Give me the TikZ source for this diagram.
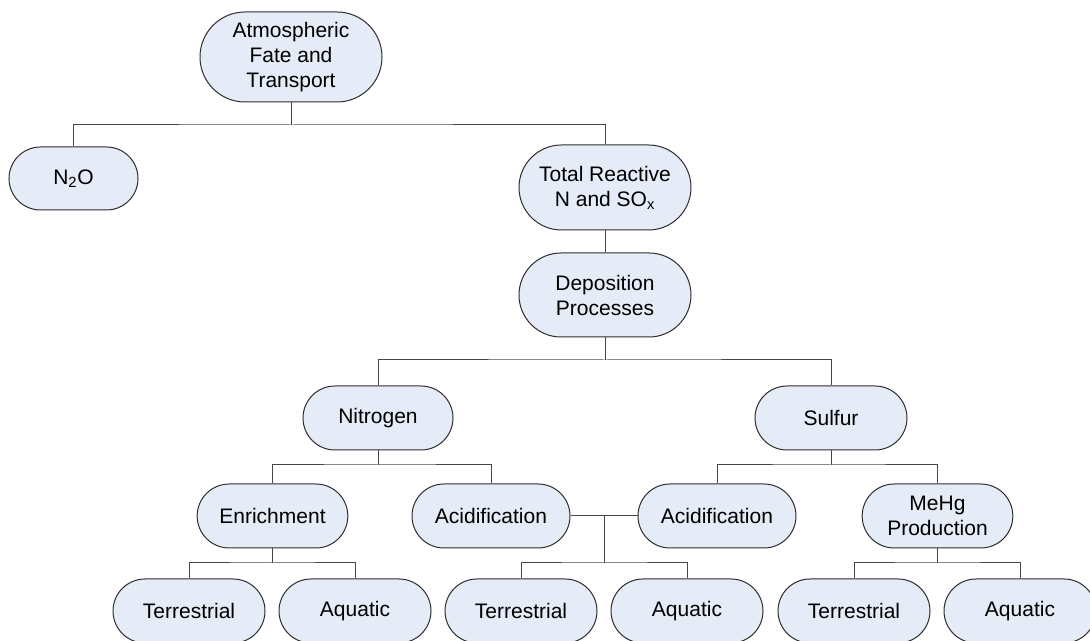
\documentclass[tikz,border=0pt]{standalone}
\usepackage{fontspec}
\setmainfont{Liberation Sans}
\usepackage{xcolor}
\usepackage{tikz}
\usetikzlibrary{shapes.misc}
\definecolor{pillfill}{RGB}{229,235,247}
\definecolor{pilledge}{RGB}{45,45,45}
\definecolor{linkgray}{RGB}{70,70,70}
\tikzstyle{pill} = [rounded rectangle, draw=pilledge, fill=pillfill, line width=0.75pt, inner sep=0pt, minimum width=114pt, minimum height=48pt, align=center, text=black, font=\fontsize{15.75pt}{18.75pt}\selectfont]
\tikzstyle{link} = [draw=linkgray, line width=0.75pt]

\begin{document}
\begin{tikzpicture}[x=0.75pt, y=-0.75pt]
            \useasboundingbox (0,0) rectangle (1090,641);
            % Nodes
            \node [pill, minimum width=136.5pt, minimum height=67.5pt] (atm_fate) at (291,57) {Atmospheric\\Fate and\\Transport};
            \node [pill, minimum width=96.75pt, minimum height=47.25pt] (n2o) at (73.5,178.5) {N\textsubscript{2}O};
            \node [pill, minimum width=129pt, minimum height=63.75pt] (total_n) at (605,187.5) {Total Reactive\\N and SO\textsubscript{x}};
            \node [pill, minimum width=129pt, minimum height=63pt] (deposition) at (605,295) {Deposition\\Processes};
            \node [pill, minimum width=112.5pt] (nitrogen) at (378,418) {Nitrogen};
            \node [pill] (sulfur) at (831,418) {Sulfur};
            \node [pill, minimum width=113pt] (enrich) at (272.5,516) {Enrichment};
            \node [pill, minimum width=118.5pt] (acid_n) at (491,516) {Acidification};
            \node [pill, minimum width=118.5pt] (acid_s) at (717,516) {Acidification};
            \node [pill, minimum width=113pt] (mehg) at (937.5,516) {MeHg\\Production};
            \node [pill] (terr_a) at (189,611) {Terrestrial};
            \node [pill] (aqua_a) at (355,611) {Aquatic};
            \node [pill] (terr_b) at (521,611) {Terrestrial};
            \node [pill] (aqua_b) at (687,611) {Aquatic};
            \node [pill] (terr_c) at (854,611) {Terrestrial};
            \node [pill] (aqua_c) at (1020,611) {Aquatic};

            % Junctions
            \coordinate (j_top) at (291,125);
            \coordinate (j_dep) at (605,360);
            \coordinate (j_nit) at (378,465);
            \coordinate (j_sul) at (831,465);
            \coordinate (j_enr) at (272.5,563);
            \coordinate (j_acid) at (604.5,516);
            \coordinate (j_acid_b) at (604.5,563);
            \coordinate (j_meh) at (937.5,563);

            % Connectors
            \draw [link] (atm_fate.south) -- (j_top);
            \draw [link] (n2o.north) |- (j_top) -| (total_n.north);
            \draw [link] (total_n.south) -- (deposition.north);
            \draw [link] (deposition.south) -- (j_dep);
            \draw [link] (nitrogen.north) |- (j_dep) -| (sulfur.north);
            \draw [link] (nitrogen.south) -- (j_nit);
            \draw [link] (enrich.north) |- (j_nit) -| (acid_n.north);
            \draw [link] (sulfur.south) -- (j_sul);
            \draw [link] (acid_s.north) |- (j_sul) -| (mehg.north);
            \draw [link] (enrich.south) -- (j_enr);
            \draw [link] (terr_a.north) |- (j_enr) -| (aqua_a.north);
            \draw [link] (acid_n.east) -- (acid_s.west);
            \draw [link] (j_acid) -- (j_acid_b);
            \draw [link] (terr_b.north) |- (j_acid_b) -| (aqua_b.north);
            \draw [link] (mehg.south) -- (j_meh);
            \draw [link] (terr_c.north) |- (j_meh) -| (aqua_c.north);
        \end{tikzpicture}
\end{document}
